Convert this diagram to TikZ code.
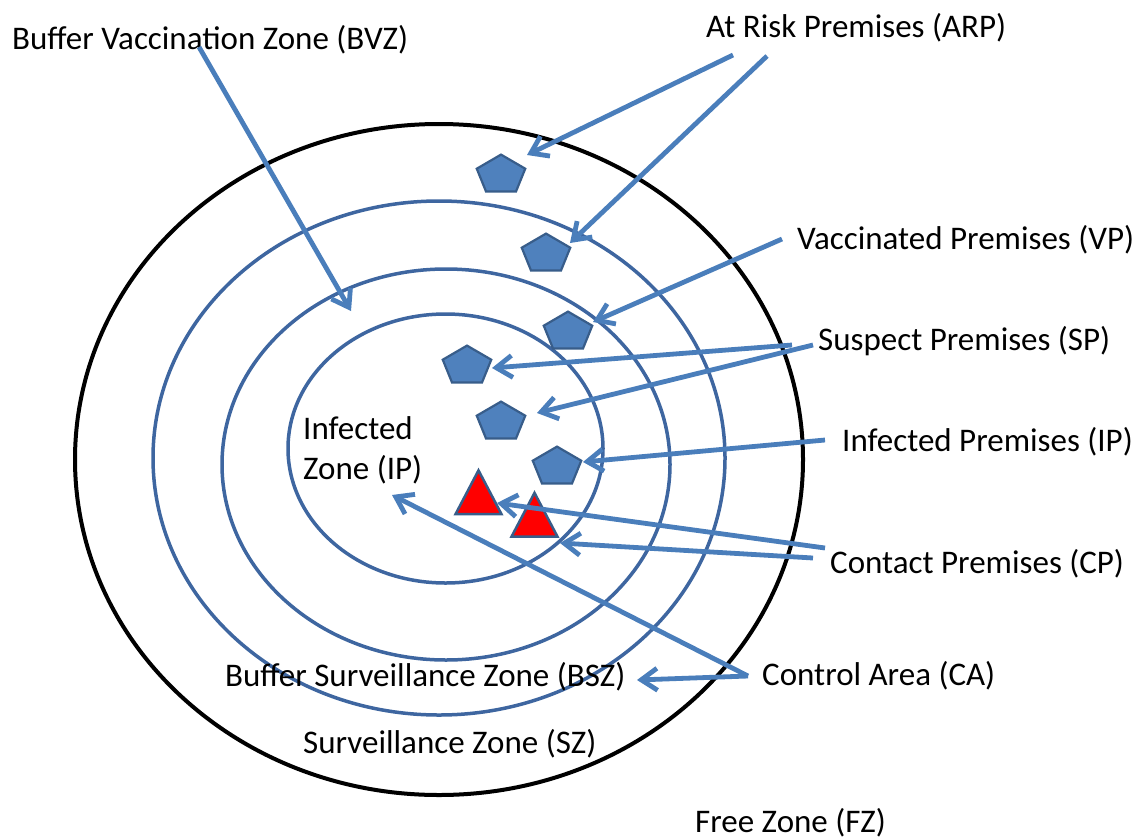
\documentclass[tikz,border=0pt]{standalone}
\usepackage{fontspec}
\setmainfont{Carlito}
\usetikzlibrary{arrows.meta,shapes.geometric,calc}

\definecolor{zoneblue}{RGB}{62,102,160}
\definecolor{arrblue}{RGB}{74,126,187}
\definecolor{premfill}{RGB}{79,129,189}
\definecolor{premline}{RGB}{56,93,138}

\tikzset{
  lbl/.style={anchor=base west, inner sep=0pt, font=\fontsize{33}{40}\selectfont},
  zone/.style={draw=zoneblue, line width=3.5pt},
  premise/.style={regular polygon, regular polygon sides=5, minimum size=51pt,
    yscale=0.8, inner sep=0pt, fill=premfill, draw=premline, line width=2.2pt},
  contact/.style={regular polygon, regular polygon sides=3, minimum size=53pt,
    yscale=1.1, inner sep=0pt, fill=red, draw=premline, line width=2.5pt},
  arr/.style={draw=arrblue, line width=4.8pt, -{Straight Barb[length=16pt,width=22pt]}}
}

\begin{document}
\begin{tikzpicture}[x=1pt,y=-1pt]

\useasboundingbox (0,0) rectangle (1147,838) ;

%zones
\draw [black, line width=4pt] (439,459.5) ellipse [x radius=364, y radius=335.5] ;
\draw [zone] (439,458) ellipse [x radius=286, y radius=257] ;
\draw [zone] (446,464.5) ellipse [x radius=224, y radius=195.5] ;
\draw [zone] (445.5,448.5) ellipse [x radius=157.5, y radius=134.5] ;

%zone labels
\node [lbl] (bvz) at (12,49) {Buffer Vaccination Zone (BVZ)} ;
\node [lbl, align=left] (iz) at (303,479) {Infected\\Zone (IP)} ;
\node [lbl] (bsz) at (225,686) {Buffer Surveillance Zone (BSZ)} ;
\node [lbl] (sz) at (303,753) {Surveillance Zone (SZ)} ;
\node [lbl] (fz) at (695,832) {Free Zone (FZ)} ;

%premises labels
\node [lbl] (arp) at (706,37) {At Risk Premises (ARP)} ;
\node [lbl] (vp) at (797,249) {Vaccinated Premises (VP)} ;
\node [lbl] (sp) at (818,350) {Suspect Premises (SP)} ;
\node [lbl] (ip) at (842,451) {Infected Premises (IP)} ;
\node [lbl] (cp) at (830,573) {Contact Premises (CP)} ;
\node [lbl] (ca) at (762,685) {Control Area (CA)} ;

%premises
\node [premise] (arp1) at (501,175) {} ;
\node [premise] (arp2) at (546,254) {} ;
\node [premise] (vp1) at (568,332) {} ;
\node [premise] (sp1) at (467,366) {} ;
\node [premise] (sp2) at (501,422) {} ;
\node [premise] (ip1) at (557,467) {} ;
\node [contact] (cp1) at (478.5,499.5) {} ;
\node [contact] (cp2) at (534.5,522) {} ;

%arrows
\coordinate (bvzpt) at (351,311) ;
\draw [arr] ($(bvz.base west)+(187,-2)$) -- (bvzpt) ;
\draw [arr] ($(arp.base west)+(27,18)$) -- ($(arp1)+(26,-20)$) ;
\draw [arr] ($(arp.base west)+(61,19)$) -- ($(arp2)+(24,-11)$) ;
\draw [arr] ($(vp.base west)+(-15,-10)$) -- ($(vp1)+(25,-10)$) ;
\draw [arr] ($(sp.base west)+(-26,-5)$) -- ($(sp1)+(25,2)$) ;
\draw [arr] ($(sp.base west)+(-5,-5)$) -- ($(sp2)+(36,-9)$) ;
\draw [arr] ($(ip.base west)+(-17,-11)$) -- ($(ip1)+(26,-5)$) ;
\draw [arr] ($(cp.base west)+(-5,-25)$) -- ($(cp1)+(18.5,3.5)$) ;
\draw [arr] ($(cp.base west)+(-17,-15)$) -- ($(cp2)+(25.5,21)$) ;
\draw [arr] ($(ca.base west)+(-14,-9)$) -- ($(iz.base west)+(89,16)$) ;
\draw [arr] ($(ca.base west)+(-14,-9)$) -- ($(bsz.base west)+(412,-6)$) ;

\end{tikzpicture}
\end{document}
